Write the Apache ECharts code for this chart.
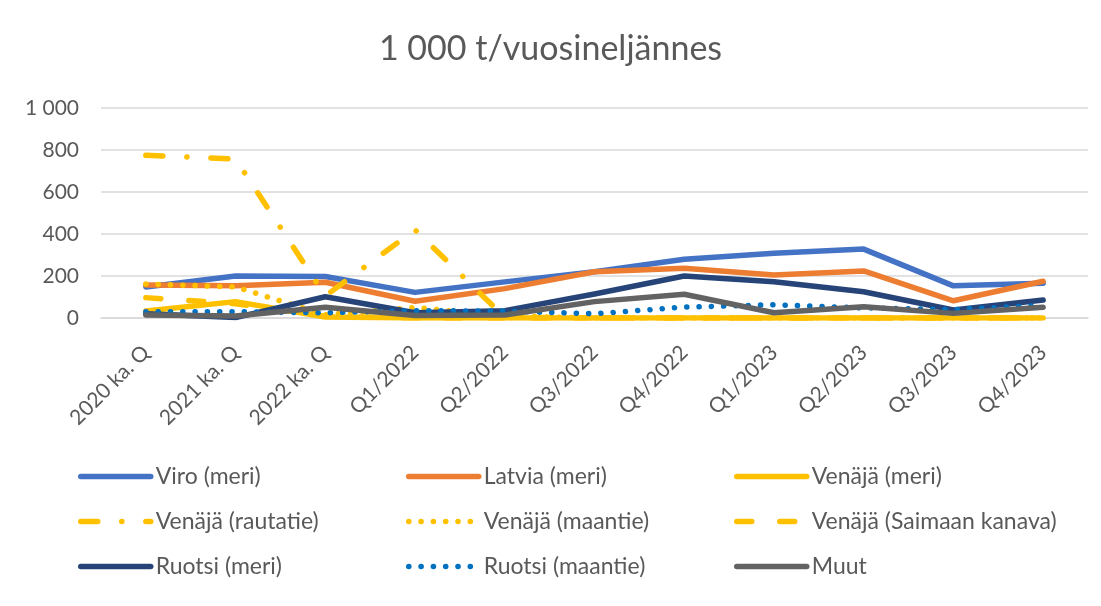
<!DOCTYPE html>
<html>
<head>
<meta charset="utf-8">
<script src="https://cdn.jsdelivr.net/npm/echarts@6/dist/echarts.min.js"></script>
<style>
  html, body { margin: 0; padding: 0; background: #fff; }
  #myChart { width: 1101px; height: 606px; }
</style>
</head>
<body>
<div id="myChart"></div>
<script>
// neljännesdata, 1 000 t
const categories = ['2020 ka. Q', '2021 ka. Q', '2022 ka. Q', 'Q1/2022', 'Q2/2022', 'Q3/2022',
  'Q4/2022', 'Q1/2023', 'Q2/2023', 'Q3/2023', 'Q4/2023'];

const lineList = [
  { name: 'Viro (meri)', color: '#4472C4', dash: 'solid', values: [148, 200, 198, 122, 172, 220, 280, 308, 328, 153, 165] },
  { name: 'Latvia (meri)', color: '#ED7D31', dash: 'solid', values: [157, 153, 170, 80, 140, 220, 237, 205, 224, 82, 175] },
  { name: 'Venäjä (meri)', color: '#FFC000', dash: 'solid', values: [33, 78, 5, 0, 0, 0, 0, 0, 0, 0, 0] },
  { name: 'Venäjä (rautatie)', color: '#FFC000', dash: [17, 24, 0.1, 24], values: [775, 757, 105, 420, 3, 0, 0, 0, 0, 0, 0] },
  { name: 'Venäjä (maantie)', color: '#FFC000', dash: [0.1, 12.2], values: [162, 148, 15, 50, 10, 0, 0, 0, 0, 0, 0] },
  { name: 'Venäjä (Saimaan kanava)', color: '#FFC000', dash: [15, 28], values: [97, 68, 8, 0, 0, 0, 0, 0, 0, 0, 0] },
  { name: 'Ruotsi (meri)', color: '#264478', dash: 'solid', values: [20, 2, 101, 25, 35, 114, 200, 173, 125, 38, 86] },
  { name: 'Ruotsi (maantie)', color: '#0070C0', dash: [0.1, 12.2], values: [30, 30, 25, 35, 33, 20, 52, 63, 48, 40, 60] },
  { name: 'Muut', color: '#636363', dash: 'solid', values: [14, 10, 51, 12, 14, 78, 113, 25, 54, 22, 51] },
];

const font = 'Lato, "Open Sans", sans-serif';
const lineWidth = 5.5;
const legendBase = {
  orient: 'vertical',
  top: 464,
  padding: 0,
  itemWidth: 70,
  itemHeight: 14,
  itemGap: 20,
  itemStyle: { opacity: 0 }, // ei symbolia selitteessä
  lineStyle: { width: lineWidth },
  textStyle: { color: '#595959', fontSize: 23, fontFamily: font, lineHeight: 25 },
};

const myChartDrawer = echarts.init(document.getElementById('myChart'));
const option = {
  animation: false,
  title: {
    text: '1 000 t/vuosineljännes',
    left: 'center',
    top: 27,
    textStyle: { color: '#595959', fontSize: 34, fontWeight: 'normal', fontFamily: font },
  },
  legend: [
    { ...legendBase, left: 78, data: ['Viro (meri)', 'Venäjä (rautatie)', 'Ruotsi (meri)'] },
    { ...legendBase, left: 406, data: ['Latvia (meri)', 'Venäjä (maantie)', 'Ruotsi (maantie)'] },
    { ...legendBase, left: 734, data: ['Venäjä (meri)', 'Venäjä (Saimaan kanava)', 'Muut'] },
  ],
  grid: {
    left: 101,
    right: 13,
    top: 108,
    bottom: 288,
  },
  xAxis: {
    type: 'category',
    data: categories,
    boundaryGap: true,
    axisLine: { lineStyle: { color: '#D9D9D9', width: 1.5 } },
    axisTick: { show: false },
    axisLabel: { rotate: 45, margin: 31, color: '#595959', fontSize: 21, fontFamily: font, interval: 0 },
  },
  yAxis: {
    type: 'value',
    min: 0,
    max: 1000,
    interval: 200,
    axisLine: { show: false },
    axisTick: { show: false },
    splitLine: { lineStyle: { color: '#D9D9D9', width: 1.5 } },
    axisLabel: {
      margin: 22,
      color: '#595959',
      fontSize: 21,
      fontFamily: font,
      formatter: (v) => String(v).replace(/\B(?=(\d{3})+(?!\d))/g, ' '),
    },
  },
  series: [],
};

lineList.forEach((element) => {
  option.series.push({
    name: element.name,
    type: 'line',
    data: element.values,
    symbol: 'none',
    color: element.color,
    lineStyle: { color: element.color, width: lineWidth, type: element.dash, cap: 'round', join: 'round' },
  });
});

myChartDrawer.setOption(option);
</script>
</body>
</html>
